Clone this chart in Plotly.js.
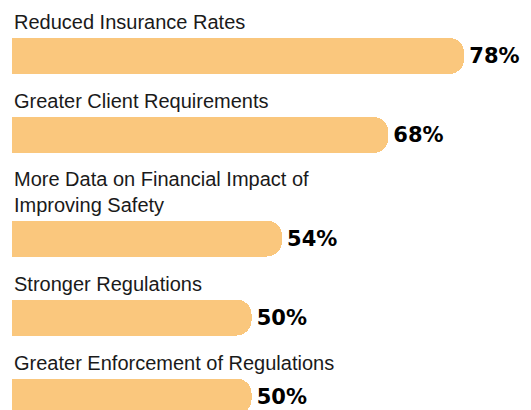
<!DOCTYPE html>
<html>
<head>
<meta charset="utf-8">
<script src="https://cdn.plot.ly/plotly-3.0.1.min.js"></script>
<style>html,body{margin:0;padding:0;background:#fff;}#chart{width:531px;height:410px;}</style>
</head>
<body>
<div id="chart"></div>
<script>
// Data
var categories = [
  "Reduced Insurance Rates",
  "Greater Client Requirements",
  "More Data on Financial Impact of<br>Improving Safety",
  "Stronger Regulations",
  "Greater Enforcement of Regulations"
];
var values = [78, 68, 54, 50, 50];

// Layout constants (pixel units on the y axis)
var FIRST = 56, ROW = 79, EXTRA_LINE = 24.5, BAR_H = 36;
var ypos = [];
var cur = FIRST;
for (var i = 0; i < categories.length; i++) {
  if (i > 0) {
    var lines = categories[i].split("<br>").length;
    cur += ROW + EXTRA_LINE * (lines - 1);
  }
  ypos.push(cur);
}

var barColor = "#FAC77D";

var trace = {
  type: "bar",
  orientation: "h",
  x: values,
  y: ypos,
  width: BAR_H,
  marker: {color: barColor, cornerradius: 15, line: {width: 0}},
  text: values.map(function(v){ return "\u200A" + v + "%"; }),
  textposition: "outside",
  constraintext: "none",
  cliponaxis: false,
  textfont: {family: "DejaVu Sans, sans-serif", size: 21, color: "#000000", weight: "bold"},
  hoverinfo: "none"
};

var annotations = categories.map(function(c, i){
  return {
    xref: "paper", x: 0, xanchor: "left",
    yref: "y", y: ypos[i] - BAR_H/2, yanchor: "bottom",
    yshift: 3,
    text: c, showarrow: false, align: "left",
    font: {family: "Liberation Sans, Arial, sans-serif", size: 20, color: "#1a1a1a"}
  };
});

var layout = {
  width: 531, height: 410,
  margin: {l: 12, r: 0, t: 0, b: 0, pad: 0},
  paper_bgcolor: "#ffffff", plot_bgcolor: "#ffffff",
  showlegend: false,
  xaxis: {range: [18.45, 86.8], visible: false, fixedrange: true},
  yaxis: {range: [410, 0], visible: false, fixedrange: true},
  annotations: annotations,
  bargap: 0
};

Plotly.newPlot("chart", [trace], layout, {displayModeBar: false, staticPlot: true});
</script>
</body>
</html>
